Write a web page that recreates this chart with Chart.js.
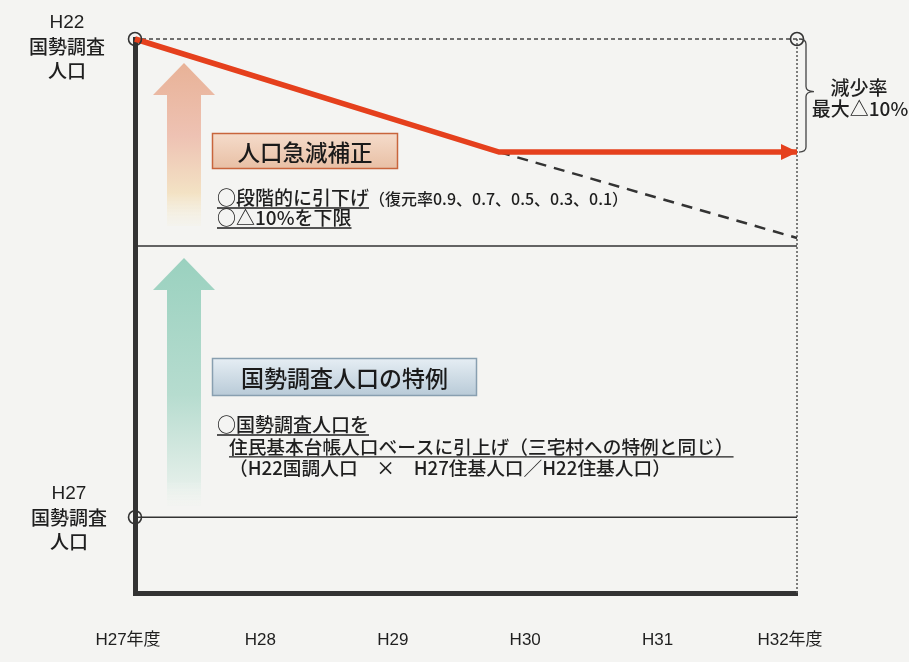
<!DOCTYPE html>
<html><head><meta charset="utf-8">
<script src="https://cdn.jsdelivr.net/npm/chart.js@4.4.1/dist/chart.umd.min.js"></script>
<style>
html,body{margin:0;padding:0;background:#f4f4f2;}
#wrap{position:relative;width:909px;height:662px;}
</style></head><body>
<div id="wrap"><canvas id="c" width="909" height="662"></canvas></div>
<script>
// ---- data ----
const yearLabels = ['H27年度', 'H28', 'H29', 'H30', 'H31', 'H32年度'];
const yearValues = [0, 1, 2, 3, 4, 5];
// corrected population path (index, H22 census = 100)
const correctedX = [0, 2.75, 5];
const correctedY = [100, 90, 90];
// uncorrected decline (dashed)
const declineX = [2.75, 5];
const declineY = [90, 82.4];
const h22Level = 100;
const tokureiLevel = 81.7;
const h27Level = 57.7;
const yMin = 51;

const FONT_JP = '"Noto Sans CJK JP", "Liberation Sans", sans-serif';
const FONT_LAT = '"Liberation Sans", "Noto Sans CJK JP", sans-serif';
const TXT = '#1f1f1f';
const RED = '#e5401d';

const pts = (xs, ys) => xs.map((x, i) => ({x, y: ys[i]}));

function drawText(ctx, s, x, y, size, opt = {}) {
  ctx.save();
  ctx.font = (opt.weight || '500') + ' ' + size + 'px ' + (opt.family || FONT_JP);
  ctx.fillStyle = opt.color || TXT;
  ctx.textBaseline = 'middle';
  ctx.textAlign = opt.align || 'left';
  ctx.fillText(s, x, y);
  const w = ctx.measureText(s).width;
  if (opt.underline) {
    ctx.strokeStyle = opt.color || TXT;
    ctx.lineWidth = 1.3;
    ctx.beginPath();
    ctx.moveTo(x, y + size * 0.5 + 0.5);
    ctx.lineTo(x + w, y + size * 0.5 + 0.5);
    ctx.stroke();
  }
  ctx.restore();
  return w;
}

function bigArrow(ctx, cx, tipY, headBaseY, bottomY, headHalf, shaftHalf, stops) {
  const g = ctx.createLinearGradient(0, tipY, 0, bottomY);
  stops.forEach(s => g.addColorStop(s[0], s[1]));
  ctx.save();
  ctx.fillStyle = g;
  ctx.beginPath();
  ctx.moveTo(cx, tipY);
  ctx.lineTo(cx + headHalf, headBaseY);
  ctx.lineTo(cx + shaftHalf, headBaseY);
  ctx.lineTo(cx + shaftHalf, bottomY);
  ctx.lineTo(cx - shaftHalf, bottomY);
  ctx.lineTo(cx - shaftHalf, headBaseY);
  ctx.lineTo(cx - headHalf, headBaseY);
  ctx.closePath();
  ctx.fill();
  ctx.restore();
}

function labelBox(ctx, x, y, w, h, top, bottom, border, text, size) {
  ctx.save();
  const g = ctx.createLinearGradient(0, y, 0, y + h);
  g.addColorStop(0, top); g.addColorStop(1, bottom);
  ctx.fillStyle = g;
  ctx.fillRect(x, y, w, h);
  ctx.strokeStyle = border; ctx.lineWidth = 1.5;
  ctx.strokeRect(x + 0.5, y + 0.5, w - 1, h - 1);
  ctx.restore();
  drawText(ctx, text, x + w / 2, y + h / 2 + 1, size, {align: 'center', color: '#1a1a1a'});
}

const decor = {
  id: 'decor',
  beforeDatasetsDraw(chart) {
    const ctx = chart.ctx;
    bigArrow(ctx, 184, 63, 95, 226, 31, 17, [
      [0, '#e8b297'], [0.45, '#eec2b3'], [0.8, '#f3e2c4'], [1, 'rgba(245,240,222,0.2)']]);
    bigArrow(ctx, 184, 258, 290, 506, 31, 17, [
      [0, '#9ad1bf'], [0.55, '#b6dccf'], [0.9, '#e2eee8'], [1, 'rgba(240,244,240,0.3)']]);
    labelBox(ctx, 212, 133, 186, 36, '#f5dccb', '#e8bfa4', '#c8653c', '人口急減補正', 22.5);
    labelBox(ctx, 212, 358, 265, 38, '#e6eef4', '#b8cad7', '#889fb0', '国勢調査人口の特例', 23);
  },
  afterDatasetsDraw(chart) {
    const ctx = chart.ctx;
    const xs = chart.scales.x, ys = chart.scales.y;
    // arrow head on the corrected line
    const meta = chart.getDatasetMeta(0);
    const last = meta.data[meta.data.length - 1];
    ctx.save();
    ctx.fillStyle = RED;
    ctx.beginPath();
    ctx.moveTo(last.x + 1, last.y);
    ctx.lineTo(last.x - 16, last.y - 8);
    ctx.lineTo(last.x - 16, last.y + 8);
    ctx.closePath();
    ctx.fill();
    ctx.restore();

    // brace for max reduction
    const bx = xs.getPixelForValue(5);
    const top = ys.getPixelForValue(h22Level), bot = ys.getPixelForValue(correctedY[2]);
    const mid = (top + bot) / 2 - 4;
    const x0 = bx + 2, x1 = bx + 9, x2 = bx + 17, r = 5;
    ctx.save();
    ctx.strokeStyle = '#444'; ctx.lineWidth = 1.3;
    ctx.beginPath();
    ctx.moveTo(x0, top);
    ctx.quadraticCurveTo(x1, top, x1, top + r);
    ctx.lineTo(x1, mid - r);
    ctx.quadraticCurveTo(x1, mid, x2, mid);
    ctx.quadraticCurveTo(x1, mid, x1, mid + r);
    ctx.lineTo(x1, bot - r);
    ctx.quadraticCurveTo(x1, bot, x0, bot);
    ctx.stroke();
    ctx.restore();
    drawText(ctx, '減少率', 859, 88, 19, {align: 'center'});
    drawText(ctx, '最大△10%', 860, 109, 19, {align: 'center'});

    // left labels
    const yTop = ys.getPixelForValue(h22Level) + 8;
    const yBot = ys.getPixelForValue(h27Level) + 1;
    [['H22', -24], ['国勢調査', 0], ['人口', 24]].forEach(([s, d]) =>
      drawText(ctx, s, 67, yTop + d, 19, {align: 'center', family: s === 'H22' ? FONT_LAT : FONT_JP}));
    [['H27', -24], ['国勢調査', 0], ['人口', 24]].forEach(([s, d]) =>
      drawText(ctx, s, 69, yBot + d, 19, {align: 'center', family: s === 'H27' ? FONT_LAT : FONT_JP}));

    // explanation texts
    let w = drawText(ctx, '○段階的に引下げ', 217, 198, 19, {underline: true});
    drawText(ctx, '（復元率0.9、0.7、0.5、0.3、0.1）', 217 + w, 199, 16);
    drawText(ctx, '○△10%を下限', 217, 218, 19, {underline: true});
    drawText(ctx, '○国勢調査人口を', 217, 425, 19, {underline: true});
    drawText(ctx, '住民基本台帳人口ベースに引上げ（三宅村への特例と同じ）', 229, 447, 18.7, {underline: true});
    drawText(ctx, '（H22国調人口　×　H27住基人口／H22住基人口）', 229, 468, 18.7);
  }
};

const lineDs = (data, color, width, dash, order) => ({
  data, borderColor: color, borderWidth: width, borderDash: dash || [],
  pointRadius: 0, pointHoverRadius: 0, tension: 0, fill: false, clip: false, order
});

new Chart(document.getElementById('c'), {
  type: 'line',
  data: {
    datasets: [
      lineDs(pts(correctedX, correctedY), RED, 5.5, null, 1),
      lineDs(pts(declineX, declineY), '#333', 2.5, [11, 8], 2),
      lineDs([{x: 0, y: h22Level}, {x: 5, y: h22Level}], '#444', 1.3, [4, 3], 5),
      lineDs([{x: 5, y: yMin}, {x: 5, y: h22Level}], '#555', 1.5, [2, 2], 5),
      lineDs([{x: 0, y: tokureiLevel}, {x: 5, y: tokureiLevel}], '#333', 1.5, null, 4),
      lineDs([{x: 0, y: h27Level}, {x: 5, y: h27Level}], '#333', 1.5, null, 4),
      {
        data: [{x: 0, y: h22Level}, {x: 5, y: h22Level}, {x: 0, y: h27Level}],
        showLine: false, pointRadius: 6.5, pointHoverRadius: 6.5, pointBorderWidth: 1.6,
        pointBorderColor: '#333', pointBackgroundColor: 'rgba(0,0,0,0)', clip: false, order: 0
      }
    ]
  },
  options: {
    responsive: false,
    animation: false,
    events: [],
    layout: {padding: {top: 39, right: 112, bottom: 0, left: 0}},
    plugins: {legend: {display: false}, tooltip: {enabled: false}},
    scales: {
      x: {
        type: 'linear', min: 0, max: 5,
        grid: {display: false, drawTicks: false},
        border: {display: true, color: '#333', width: 5},
        afterBuildTicks: s => { s.ticks = yearValues.map(v => ({value: v})); },
        afterFit: s => { s.height = 69; s.paddingLeft = 0; s.paddingRight = 0; },
        ticks: {
          autoSkip: false, maxRotation: 0, padding: 37, labelOffset: -7,
          color: '#1f1f1f', font: {family: FONT_LAT, size: 17},
          callback: (v, i) => yearLabels[i]
        }
      },
      y: {
        type: 'linear', min: yMin, max: 100,
        grid: {display: false, drawTicks: false},
        border: {display: true, color: '#333', width: 5},
        ticks: {display: false},
        afterFit: s => { s.width = 135; s.paddingTop = 0; s.paddingBottom = 0; }
      }
    }
  },
  plugins: [decor]
});
</script>
</body></html>
